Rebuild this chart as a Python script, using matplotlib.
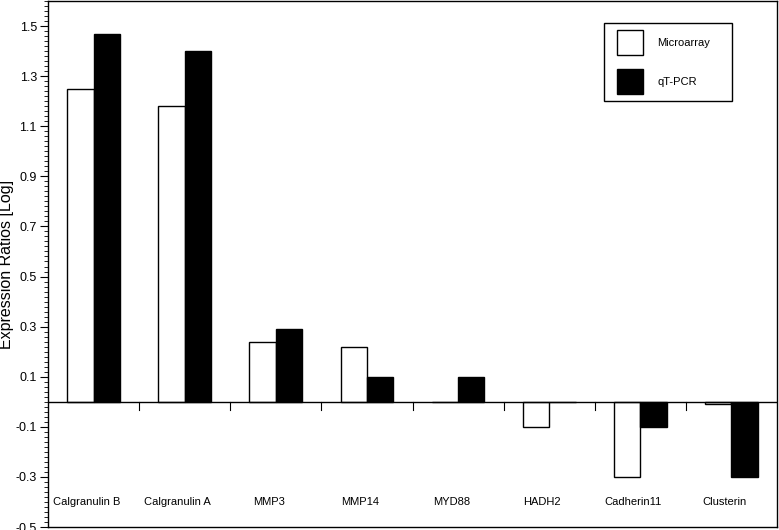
import matplotlib
matplotlib.use("Agg")
import matplotlib.pyplot as plt
from matplotlib.patches import Rectangle, Patch
from matplotlib.ticker import MultipleLocator, FixedLocator
import numpy as np

plt.rcParams['font.family'] = ['Liberation Sans', 'DejaVu Sans']

categories = ["Calgranulin B", "Calgranulin A", "MMP3", "MMP14", "MYD88",
              "HADH2", "Cadherin11", "Clusterin"]
microarray = [1.25, 1.18, 0.24, 0.22, 0.0, -0.10, -0.30, -0.01]
qtpcr = [1.47, 1.40, 0.29, 0.10, 0.10, 0.0, -0.10, -0.30]
ytick_labels = ["-0.5", "-0.3", "-0.1", "0.1", "0.3", "0.5", "0.7", "0.9",
                "1.1", "1.3", "1.5"]
ytick_values = [float(s) for s in ytick_labels]

W, H = 779, 530
fig = plt.figure(figsize=(W/100, H/100), dpi=100)
ax_l, ax_b, ax_w, ax_h = 48, 3, 729, 526
ax = fig.add_axes([ax_l/W, ax_b/H, ax_w/W, ax_h/H])

def axfrac(px, py):
    # convert image pixel (from top-left) to axes fraction
    return (px - ax_l) / ax_w, (H - ax_b - py) / ax_h

x = np.arange(len(categories)) + 0.5
w = 0.29
ax.bar(x - w/2, microarray, width=w, color="white", edgecolor="black", linewidth=1.0, zorder=2)
ax.bar(x + w/2, qtpcr, width=w, color="black", edgecolor="black", linewidth=1.0, zorder=2)

ax.set_xlim(0, len(categories))
ax.set_ylim(-0.5, 1.6)

# zero line with category separator ticks
ax.axhline(0, color="black", linewidth=1.0, zorder=3)
for k in range(1, len(categories)):
    ax.plot([k, k], [0, -0.032], color="black", linewidth=0.8, zorder=3)

ax.set_xticks([])
ax.yaxis.set_major_locator(FixedLocator(ytick_values))
ax.set_yticklabels(ytick_labels, fontsize=9)
ax.yaxis.set_minor_locator(MultipleLocator(0.02))
ax.tick_params(axis='y', which='major', length=6, width=0.8, direction='out', pad=2)
ax.tick_params(axis='y', which='minor', length=3, width=0.6, direction='out')

for s in ax.spines.values():
    s.set_linewidth(1.0)

for xi, lab in zip(x, categories):
    ax.text(xi - 0.075, -0.40, lab, ha="center", va="center", fontsize=8)

ax.set_ylabel("Expression Ratios [Log]", fontsize=11.5)
lx, ly = axfrac(14, 264)
ax.yaxis.set_label_coords(lx, ly)

fs = 8
fpx = fs * 100 / 72
hh = 3.08
handles = [Patch(facecolor="white", edgecolor="black", linewidth=1.0),
           Patch(facecolor="black", edgecolor="black", linewidth=1.0)]
leg = ax.legend(handles, ["Microarray", "qT-PCR"], loc="upper left",
                bbox_to_anchor=axfrac(617, 30), frameon=False,
                fontsize=fs, handlelength=26/fpx, handleheight=hh,
                labelspacing=14/fpx, handletextpad=14/fpx,
                borderpad=0, borderaxespad=0)
fx0, fy0 = axfrac(604, 101)
ax.add_patch(Rectangle((fx0, fy0), 128/ax_w, 78/ax_h,
                       transform=ax.transAxes, fill=False, edgecolor="black",
                       linewidth=1.0, zorder=5))

fig.savefig("out.png", dpi=100)
